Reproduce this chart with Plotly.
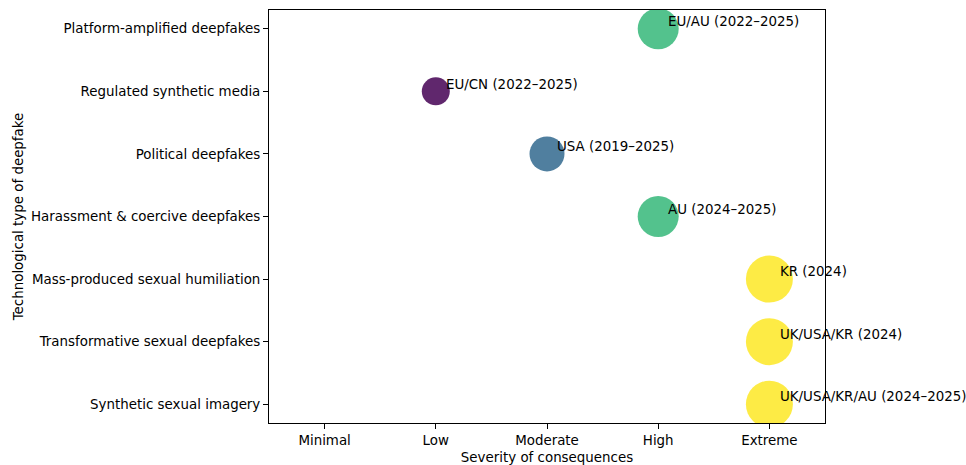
import plotly.graph_objects as go

# Data
types = [
    "Synthetic sexual imagery",
    "Transformative sexual deepfakes",
    "Mass-produced sexual humiliation",
    "Harassment & coercive deepfakes",
    "Political deepfakes",
    "Regulated synthetic media",
    "Platform-amplified deepfakes",
]
severity_levels = ["Minimal", "Low", "Moderate", "High", "Extreme"]
severity = ["Extreme", "Extreme", "Extreme", "High", "Moderate", "Low", "High"]
labels = [
    "UK/USA/KR/AU (2024–2025)",
    "UK/USA/KR (2024)",
    "KR (2024)",
    "AU (2024–2025)",
    "USA (2019–2025)",
    "EU/CN (2022–2025)",
    "EU/AU (2022–2025)",
]
# bubble diameter per severity level (px)
level_size = {"Low": 28, "Moderate": 35, "High": 41, "Extreme": 47}

xs = [severity_levels.index(s) for s in severity]
ys = list(range(len(types)))
sizes = [level_size[s] for s in severity]

FONT = "DejaVu Sans, Liberation Sans, sans-serif"
FS = 13.4

fig = go.Figure()
fig.add_trace(go.Scatter(
    x=xs, y=ys, mode="markers",
    marker=dict(size=sizes, sizemode="diameter", color=xs, colorscale="Viridis",
                cmin=1, cmax=4, opacity=0.85, line=dict(width=0)),
    hoverinfo="skip", showlegend=False,
))

for x, y, t in zip(xs, ys, labels):
    fig.add_annotation(x=x + 0.1, y=y + 0.1, text=t, showarrow=False,
                       xanchor="left", yanchor="middle", yshift=1, xshift=-3,
                       font=dict(family=FONT, size=FS, color="#000"))

axis_common = dict(showline=True, linecolor="#000", linewidth=1, mirror=True,
                   ticks="outside", ticklen=5, tickwidth=1, tickcolor="#000",
                   showgrid=False, zeroline=False,
                   tickfont=dict(family=FONT, size=FS, color="#000"))

fig.update_xaxes(range=[-0.5, 4.5], tickvals=list(range(len(severity_levels))),
                 ticktext=severity_levels,
                 title=dict(text="Severity of consequences", standoff=5,
                            font=dict(family=FONT, size=FS, color="#000")),
                 **axis_common)
fig.update_yaxes(range=[-0.3, len(types) - 0.7], tickvals=ys, ticktext=types,
                 title=dict(text="Technological type of deepfake", standoff=4,
                            font=dict(family=FONT, size=FS, color="#000")),
                 **axis_common)

fig.update_layout(width=966, height=465, plot_bgcolor="white", paper_bgcolor="white",
                  margin=dict(l=269, r=141, t=10, b=42, autoexpand=False),
                  font=dict(family=FONT, size=FS, color="#000"))

fig.write_html("out.html", config={"displayModeBar": False},
               post_script="document.body.style.margin='0';")
